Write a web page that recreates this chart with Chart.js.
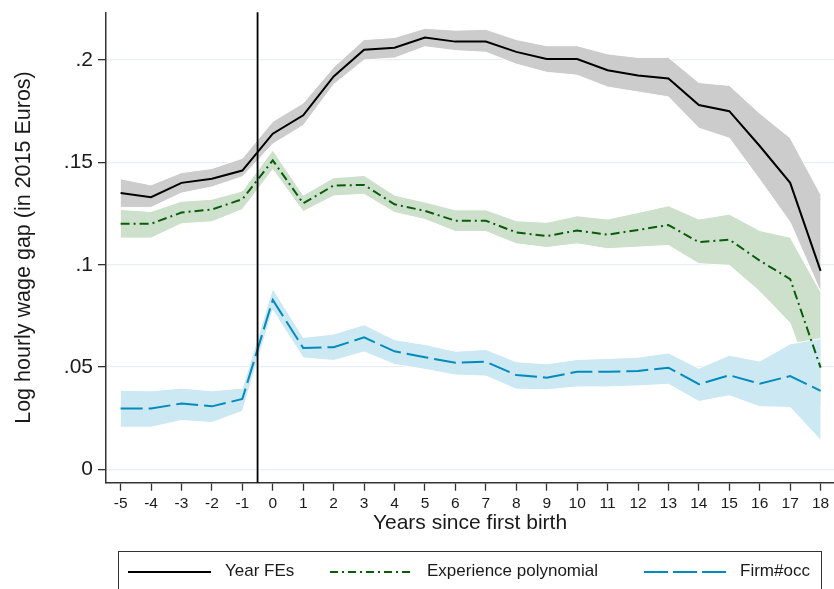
<!DOCTYPE html>
<html>
<head>
<meta charset="utf-8">
<script src="https://cdn.jsdelivr.net/npm/chart.js@4.4.1/dist/chart.umd.min.js"></script>
<style>
  body { margin: 0; background: #fff; }
  #wrap { position: relative; width: 834px; height: 589px; overflow: hidden; font-family: "Liberation Sans", Arial, sans-serif; }
  #legend { position: absolute; left: 118px; top: 551px; width: 704px; height: 44px; border: 1.5px solid #333; box-sizing: border-box; }
  #legend svg { position: absolute; left: 0; top: 0; }
  #legend span { position: absolute; top: 9px; font-size: 17px; color: #1a1a1a; line-height: 20px; }
</style>
</head>
<body>
<div id="wrap">
  <canvas id="chart" width="834" height="589"></canvas>
  <div id="legend">
    <svg width="704" height="44">
      <line x1="9" y1="20" x2="92" y2="20" stroke="#000" stroke-width="2"/>
      <line x1="211" y1="20" x2="293" y2="20" stroke="#0a5c0a" stroke-width="2" stroke-dasharray="8 4 2 4"/>
      <line x1="525" y1="20" x2="607" y2="20" stroke="#008bbc" stroke-width="2" stroke-dasharray="24 5"/>
    </svg>
    <span style="left:106px">Year FEs</span>
    <span style="left:308px">Experience polynomial</span>
    <span style="left:621px">Firm#occ</span>
  </div>
</div>
<script>
// years relative to first birth
const years = [-5, -4, -3, -2, -1, 0, 1, 2, 3, 4, 5, 6, 7, 8, 9, 10, 11, 12, 13, 14, 15, 16, 17, 18];
const eventYear = -0.5;

// Year FEs
const yearFE   = [0.135, 0.133, 0.140, 0.142, 0.146, 0.164, 0.173, 0.192, 0.205, 0.206, 0.211, 0.209, 0.209, 0.204, 0.2005, 0.2005, 0.195, 0.1925, 0.191, 0.178, 0.175, 0.158, 0.140, 0.097];
const yearFEHi = [0.142, 0.139, 0.145, 0.147, 0.152, 0.170, 0.179, 0.1965, 0.210, 0.211, 0.2155, 0.2146, 0.215, 0.210, 0.207, 0.207, 0.203, 0.2013, 0.2013, 0.189, 0.1876, 0.174, 0.162, 0.1344];
const yearFELo = [0.128, 0.128, 0.135, 0.138, 0.143, 0.159, 0.168, 0.188, 0.200, 0.201, 0.2065, 0.2046, 0.2038, 0.198, 0.194, 0.1926, 0.1868, 0.1844, 0.182, 0.1667, 0.1618, 0.1416, 0.1207, 0.0868];

// Experience polynomial
const expPoly   = [0.120, 0.120, 0.1255, 0.127, 0.132, 0.151, 0.130, 0.1387, 0.139, 0.1295, 0.1263, 0.1215, 0.1215, 0.1158, 0.114, 0.1167, 0.1147, 0.117, 0.1194, 0.111, 0.1123, 0.102, 0.093, 0.0497];
const expPolyHi = [0.127, 0.126, 0.131, 0.132, 0.136, 0.156, 0.134, 0.1425, 0.1436, 0.134, 0.1306, 0.1268, 0.1268, 0.1215, 0.1207, 0.1239, 0.1223, 0.1255, 0.1288, 0.1223, 0.1247, 0.1167, 0.1134, 0.0868];
const expPolyLo = [0.113, 0.113, 0.120, 0.121, 0.127, 0.1465, 0.126, 0.1336, 0.1344, 0.1255, 0.1221, 0.1162, 0.1162, 0.1102, 0.1084, 0.1102, 0.1078, 0.1086, 0.1094, 0.1005, 0.0997, 0.0869, 0.0714, 0.030];

// Firm#occ
const firmOcc   = [0.0297, 0.0297, 0.0322, 0.0308, 0.0344, 0.0828, 0.0593, 0.0597, 0.0645, 0.0577, 0.0548, 0.0521, 0.0526, 0.0461, 0.0448, 0.0477, 0.0477, 0.0481, 0.0497, 0.0416, 0.046, 0.0419, 0.0456, 0.0384];
const firmOccHi = [0.0387, 0.0384, 0.0397, 0.0384, 0.0397, 0.0884, 0.0645, 0.0661, 0.0707, 0.0634, 0.061, 0.0577, 0.0586, 0.0526, 0.0516, 0.0537, 0.0542, 0.0548, 0.0569, 0.0494, 0.0558, 0.0529, 0.0613, 0.0639];
const firmOccLo = [0.0206, 0.0206, 0.0239, 0.0229, 0.0284, 0.0777, 0.0545, 0.0532, 0.0574, 0.0513, 0.0489, 0.0461, 0.0456, 0.0392, 0.0389, 0.0403, 0.0403, 0.0408, 0.0416, 0.0332, 0.036, 0.0306, 0.0303, 0.0142];

const yTicks = [0, 0.05, 0.1, 0.15, 0.2];

const pts = (arr) => years.map((x, i) => ({ x: x, y: arr[i] }));

function band(hi, lo, color, order) {
  return [
    { data: pts(hi), fill: "+1", backgroundColor: color, borderColor: "#fff", borderWidth: 1, pointRadius: 0, order: order + 1 },
    { data: pts(lo), fill: false, borderColor: "#fff", borderWidth: 1, pointRadius: 0, order: order },
  ];
}

function line(arr, color, dash, order) {
  return { data: pts(arr), fill: false, borderColor: color, borderWidth: 2, borderDash: dash, pointRadius: 0, order: order };
}

// vertical line at first birth
const eventLine = {
  id: "eventLine",
  afterDatasetsDraw(chart) {
    const { ctx, chartArea, scales } = chart;
    const x = scales.x.getPixelForValue(eventYear);
    ctx.save();
    ctx.strokeStyle = "#000";
    ctx.lineWidth = 1.8;
    ctx.beginPath();
    ctx.moveTo(x, chartArea.top);
    ctx.lineTo(x, chartArea.bottom);
    ctx.stroke();
    ctx.restore();
  },
};

const font = "'Liberation Sans', Arial, sans-serif";

new Chart(document.getElementById("chart"), {
  type: "line",
  data: {
    datasets: [
      ...band(yearFEHi, yearFELo, "#cccccc", 30),
      ...band(expPolyHi, expPolyLo, "rgb(204,224,204)", 20),
      ...band(firmOccHi, firmOccLo, "rgb(204,232,242)", 10),
      line(yearFE, "#000", [], 3),
      line(expPoly, "#0a5c0a", [9, 4, 2, 4], 2),
      line(firmOcc, "#008bbc", [22, 6], 1),
    ],
  },
  options: {
    responsive: false,
    animation: false,
    layout: { padding: { top: 8, bottom: 46.3, left: 0, right: 0 } },
    plugins: { legend: { display: false }, tooltip: { enabled: false } },
    elements: { line: { tension: 0 } },
    scales: {
      x: {
        type: "linear",
        min: -5.48,
        max: 18.44,
        afterFit: (s) => { s.height = 60; },
        ticks: { stepSize: 1, includeBounds: false, color: "#1a1a1a", padding: 4, maxRotation: 0, autoSkip: false, font: { family: font, size: 15.5 } },
        grid: { drawOnChartArea: false, drawTicks: true, tickLength: 8, tickColor: "#333", tickWidth: 1.3 },
        border: { display: true, color: "#333", width: 1.5 },
        title: { display: true, text: "Years since first birth", color: "#1a1a1a", padding: { top: 0, bottom: 7 }, font: { family: font, size: 21 } },
      },
      y: {
        min: -0.0065,
        max: 0.2233,
        afterFit: (s) => { s.width = 106; },
        afterBuildTicks: (s) => { s.ticks = yTicks.map((v) => ({ value: v })); },
        ticks: {
          color: "#1a1a1a",
          padding: 5,
          font: { family: font, size: 21, lineHeight: 0.7 },
          callback: (v) => (v === 0 ? "0" : String(+v.toFixed(2)).replace(/^0\./, ".")),
        },
        grid: { color: "#e6eff1", lineWidth: 1.3, drawTicks: true, tickLength: 8, tickColor: "#333", tickWidth: 1.3 },
        border: { display: true, color: "#333", width: 1.5 },
        title: { display: true, text: "Log hourly wage gap (in 2015 Euros)", color: "#1a1a1a", padding: { top: 11, bottom: 0 }, font: { family: font, size: 21.5 } },
      },
    },
  },
  plugins: [eventLine],
});
</script>
</body>
</html>
